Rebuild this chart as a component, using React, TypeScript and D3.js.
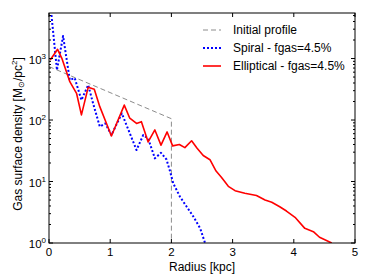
import React from "react";
import * as d3 from "d3";

const initialR = [0, 2, 2];
const initialSigma = [740, 105, 1];

const spiralR = [0.04, 0.13, 0.23, 0.34, 0.42, 0.53, 0.64, 0.72, 0.83, 0.92, 1.02, 1.19, 1.43, 1.54, 1.62, 1.73, 1.83, 1.92, 1.98, 2.03, 2.14, 2.25, 2.36, 2.47, 2.55];
const spiralSigma = [5100, 650, 2320, 447, 482, 211, 371, 187, 78, 88, 57, 128, 32.5, 57, 50, 23.8, 29.3, 22.8, 14.4, 9.35, 5.66, 3.89, 2.68, 1.73, 1.0];

const ellR = [0.02, 0.14, 0.21, 0.34, 0.45, 0.53, 0.64, 0.74, 0.83, 1.02, 1.23, 1.32, 1.43, 1.51, 1.62, 1.73, 1.83, 1.93, 2.02, 2.13, 2.22, 2.33, 2.42, 2.52, 2.63, 2.73, 2.82, 2.93, 3.04, 3.2, 3.39, 3.53, 3.64, 3.77, 3.88, 4.02, 4.18, 4.32, 4.42, 4.62];
const ellSigma = [945, 1412, 1007, 420, 272, 121, 340, 316, 165, 55, 175, 107, 88, 94, 44, 69, 39, 64, 38, 40, 35.5, 46, 34.7, 26.5, 22.6, 14.8, 11.6, 8.35, 7.1, 6.43, 5.92, 5.0, 4.59, 3.89, 3.31, 2.62, 1.73, 1.53, 1.24, 1.0];

const xTicks = [0, 1, 2, 3, 4, 5];
const yTicks = [1, 10, 100, 1000];
const yExp = ["0", "1", "2", "3"];

const legendLabels = ["Initial profile", "Spiral - fgas=4.5%", "Elliptical - fgas=4.5%"];

const W = 374;
const H = 280;
const m = { left: 49, right: 19, top: 13, bottom: 37 };
const font = "'Liberation Sans', Arial, sans-serif";

export default function App() {
  const x = d3.scaleLinear().domain([0, 5]).range([m.left, W - m.right]);
  const y = d3.scaleLog().domain([1, 5500]).range([H - m.bottom, m.top]);

  const line = d3
    .line<[number, number]>()
    .x((d) => x(d[0]))
    .y((d) => y(d[1]));

  const zip = (a: number[], b: number[]) => a.map((v, i) => [v, b[i]] as [number, number]);

  const minor: number[] = [];
  for (let k = 0; k < 4; k++) {
    for (let j = 2; j <= 9; j++) {
      const v = j * Math.pow(10, k);
      if (v <= 5500) minor.push(v);
    }
  }

  const x0 = m.left;
  const x1 = W - m.right;
  const yb = H - m.bottom;
  const yt = m.top;

  const series = [
    { d: zip(initialR, initialSigma), stroke: "#8c8c8c", width: 1, dash: "5,3" },
    { d: zip(spiralR, spiralSigma), stroke: "#0000ff", width: 2, dash: "2,2" },
    { d: zip(ellR, ellSigma), stroke: "#ff0000", width: 1.6, dash: undefined },
  ];

  return (
    <svg
      width={W}
      height={H}
      style={{ position: "absolute", left: 0, top: 0, background: "#fff" }}
    >
      <defs>
        <clipPath id="plot">
          <rect x={x0} y={yt} width={x1 - x0} height={yb - yt} />
        </clipPath>
      </defs>

      <g clipPath="url(#plot)">
        {series.map((s, i) => (
          <path
            key={i}
            d={line(s.d) || ""}
            fill="none"
            stroke={s.stroke}
            strokeWidth={s.width}
            strokeDasharray={s.dash}
            strokeLinejoin="round"
          />
        ))}
      </g>

      {/* ticks, inward on all four sides */}
      <g stroke="#000" strokeWidth={1}>
        {xTicks.map((t) => (
          <g key={"xt" + t}>
            <line x1={x(t)} x2={x(t)} y1={yb} y2={yb - 4} />
            <line x1={x(t)} x2={x(t)} y1={yt} y2={yt + 4} />
          </g>
        ))}
        {yTicks.map((t) => (
          <g key={"yt" + t}>
            <line x1={x0} x2={x0 + 4} y1={y(t)} y2={y(t)} />
            <line x1={x1} x2={x1 - 4} y1={y(t)} y2={y(t)} />
          </g>
        ))}
        {minor.map((t) => (
          <g key={"ym" + t}>
            <line x1={x0} x2={x0 + 2} y1={y(t)} y2={y(t)} />
            <line x1={x1} x2={x1 - 2} y1={y(t)} y2={y(t)} />
          </g>
        ))}
      </g>

      <rect x={x0} y={yt} width={x1 - x0} height={yb - yt} fill="none" stroke="#000" strokeWidth={1} />

      <g fontFamily={font} fontSize={11.5} fill="#000">
        {xTicks.map((t) => (
          <text key={"xl" + t} x={x(t)} y={yb + 13} textAnchor="middle">
            {t}
          </text>
        ))}
        {yTicks.map((t, i) => (
          <text key={"yl" + t} x={x0 - 3} y={y(t) + 5} textAnchor="end">
            10
            <tspan fontSize={8} dy={-5}>
              {yExp[i]}
            </tspan>
          </text>
        ))}
      </g>
      <g fontFamily={font} fontSize={12} fill="#000">
        <text x={(x0 + x1) / 2} y={yb + 27.5} textAnchor="middle">
          Radius [kpc]
        </text>
        <text transform={`translate(22,${(yt + yb) / 2 + 6}) rotate(-90)`} textAnchor="middle">
          Gas surface density [M
          <tspan fontSize={8} dy={2}>⊙</tspan>
          <tspan dy={-2}>/pc</tspan>
          <tspan fontSize={8} dy={-5}>2</tspan>
          <tspan dy={5}>]</tspan>
        </text>
      </g>

      <g fontFamily={font} fontSize={12}>
        {legendLabels.map((lab, i) => {
          const ly = 30 + i * 18;
          const s = series[i];
          return (
            <g key={lab}>
              <line
                x1={203}
                x2={221}
                y1={ly}
                y2={ly}
                stroke={s.stroke}
                strokeWidth={s.width}
                strokeDasharray={s.dash}
              />
              <text x={233} y={ly + 4}>
                {lab}
              </text>
            </g>
          );
        })}
      </g>
    </svg>
  );
}
